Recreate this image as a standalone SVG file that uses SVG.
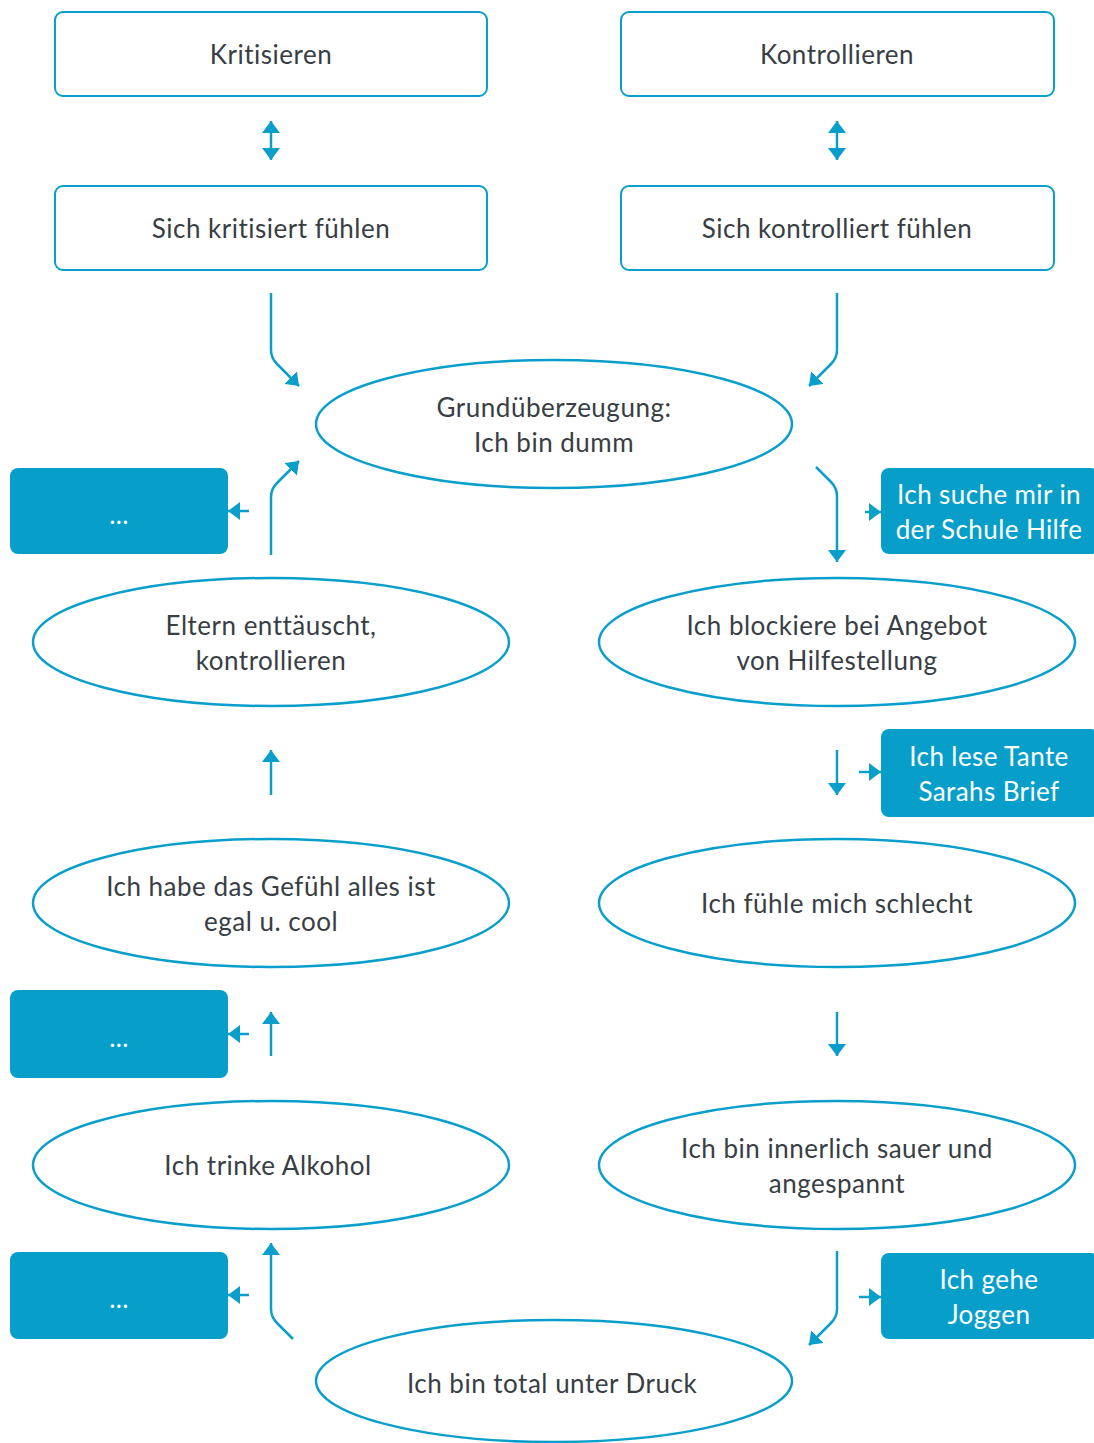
<svg xmlns="http://www.w3.org/2000/svg" width="1094" height="1443" viewBox="0 0 1094 1443">
  <style>
    .box { fill: #ffffff; stroke: #0a9fcb; stroke-width: 2; }
    .fill { fill: #079fca; stroke: none; }
    .ell { fill: #ffffff; stroke: #0a9fcb; stroke-width: 2.5; }
    .t { font-family: Lato, "Open Sans", sans-serif; font-size: 26px; letter-spacing: 0.5px; fill: #383e44; text-anchor: middle; }
    .w { font-family: Lato, "Open Sans", sans-serif; font-size: 26px; letter-spacing: 0.4px; fill: #ffffff; text-anchor: middle; }
    .c { fill: none; stroke: #0a9fcb; stroke-width: 2.5; }
  </style>
  <defs>
    <marker id="ah" viewBox="0 0 12 18" refX="12" refY="9" markerWidth="12" markerHeight="18" markerUnits="userSpaceOnUse" orient="auto-start-reverse">
      <path d="M0,0 L12,9 L0,18 z" fill="#0a9fcb"/>
    </marker>
  </defs>

  <!-- connectors -->
  <g id="connectors" class="c">
    <path d="M271,121 V160" marker-start="url(#ah)" marker-end="url(#ah)"/>
    <path d="M837,121 V160" marker-start="url(#ah)" marker-end="url(#ah)"/>
    <path d="M271,293 V350 Q271,358 277,364 L299,386" marker-end="url(#ah)"/>
    <path d="M837,293 V350 Q837,358 831,364 L809,386" marker-end="url(#ah)"/>
    <path d="M271,555 V497 Q271,489 277,483 L299,461" marker-end="url(#ah)"/>
    <path d="M249,511 H228" marker-end="url(#ah)"/>
    <path d="M816,467 L831,482 Q837,488 837,496 V562" marker-end="url(#ah)"/>
    <path d="M865,512 H881" marker-end="url(#ah)"/>
    <path d="M271,795 V750" marker-end="url(#ah)"/>
    <path d="M837,750 V795" marker-end="url(#ah)"/>
    <path d="M859,772 H881" marker-end="url(#ah)"/>
    <path d="M271,1056 V1012" marker-end="url(#ah)"/>
    <path d="M249,1034 H228" marker-end="url(#ah)"/>
    <path d="M837,1012 V1056" marker-end="url(#ah)"/>
    <path d="M293,1339 L277,1323 Q271,1317 271,1309 V1243" marker-end="url(#ah)"/>
    <path d="M249,1295 H228" marker-end="url(#ah)"/>
    <path d="M837,1251 V1309 Q837,1317 831,1323 L809,1345" marker-end="url(#ah)"/>
    <path d="M859,1297 H881" marker-end="url(#ah)"/>
  </g>

  <!-- top boxes -->
  <g id="kritisieren">
    <rect class="box" x="55" y="12" width="432" height="84" rx="8"/>
    <text class="t" x="271" y="64">Kritisieren</text>
  </g>
  <g id="kontrollieren">
    <rect class="box" x="621" y="12" width="433" height="84" rx="8"/>
    <text class="t" x="837" y="64">Kontrollieren</text>
  </g>
  <g id="sich-kritisiert">
    <rect class="box" x="55" y="186" width="432" height="84" rx="8"/>
    <text class="t" x="271" y="238">Sich kritisiert fühlen</text>
  </g>
  <g id="sich-kontrolliert">
    <rect class="box" x="621" y="186" width="433" height="84" rx="8"/>
    <text class="t" x="837" y="238">Sich kontrolliert fühlen</text>
  </g>

  <!-- ellipses -->
  <g id="grundueberzeugung">
    <ellipse class="ell" cx="554" cy="424" rx="238" ry="64"/>
    <text class="t" x="554" y="417">Grundüberzeugung:</text>
    <text class="t" x="554" y="452">Ich bin dumm</text>
  </g>
  <g id="eltern">
    <ellipse class="ell" cx="271" cy="642" rx="238" ry="64"/>
    <text class="t" x="271" y="635">Eltern enttäuscht,</text>
    <text class="t" x="271" y="670">kontrollieren</text>
  </g>
  <g id="blockiere">
    <ellipse class="ell" cx="837" cy="642" rx="238" ry="64"/>
    <text class="t" x="837" y="635">Ich blockiere bei Angebot</text>
    <text class="t" x="837" y="670">von Hilfestellung</text>
  </g>
  <g id="egal">
    <ellipse class="ell" cx="271" cy="903" rx="238" ry="64"/>
    <text class="t" x="271" y="896">Ich habe das Gefühl alles ist</text>
    <text class="t" x="271" y="931">egal u. cool</text>
  </g>
  <g id="schlecht">
    <ellipse class="ell" cx="837" cy="903" rx="238" ry="64"/>
    <text class="t" x="837" y="913">Ich fühle mich schlecht</text>
  </g>
  <g id="alkohol">
    <ellipse class="ell" cx="271" cy="1165" rx="238" ry="64"/>
    <text class="t" x="268" y="1175">Ich trinke Alkohol</text>
  </g>
  <g id="sauer">
    <ellipse class="ell" cx="837" cy="1165" rx="238" ry="64"/>
    <text class="t" x="837" y="1158">Ich bin innerlich sauer und</text>
    <text class="t" x="837" y="1193">angespannt</text>
  </g>
  <g id="druck">
    <ellipse class="ell" cx="554" cy="1381" rx="238" ry="61"/>
    <text class="t" x="552" y="1393">Ich bin total unter Druck</text>
  </g>

  <!-- filled boxes -->
  <g id="dots-1">
    <rect class="fill" x="10" y="468" width="218" height="86" rx="8"/>
    <text class="w" x="119" y="524">...</text>
  </g>
  <g id="dots-2">
    <rect class="fill" x="10" y="990" width="218" height="88" rx="8"/>
    <text class="w" x="119" y="1047">...</text>
  </g>
  <g id="dots-3">
    <rect class="fill" x="10" y="1252" width="218" height="87" rx="8"/>
    <text class="w" x="119" y="1308">...</text>
  </g>
  <g id="schule-hilfe">
    <rect class="fill" x="881" y="468" width="218" height="86" rx="8"/>
    <text class="w" x="989" y="504">Ich suche mir in</text>
    <text class="w" x="989" y="539">der Schule Hilfe</text>
  </g>
  <g id="tante-brief">
    <rect class="fill" x="881" y="729" width="218" height="88" rx="8"/>
    <text class="w" x="989" y="766">Ich lese Tante</text>
    <text class="w" x="989" y="801">Sarahs Brief</text>
  </g>
  <g id="joggen">
    <rect class="fill" x="881" y="1253" width="218" height="86" rx="8"/>
    <text class="w" x="989" y="1289">Ich gehe</text>
    <text class="w" x="989" y="1324">Joggen</text>
  </g>
</svg>
